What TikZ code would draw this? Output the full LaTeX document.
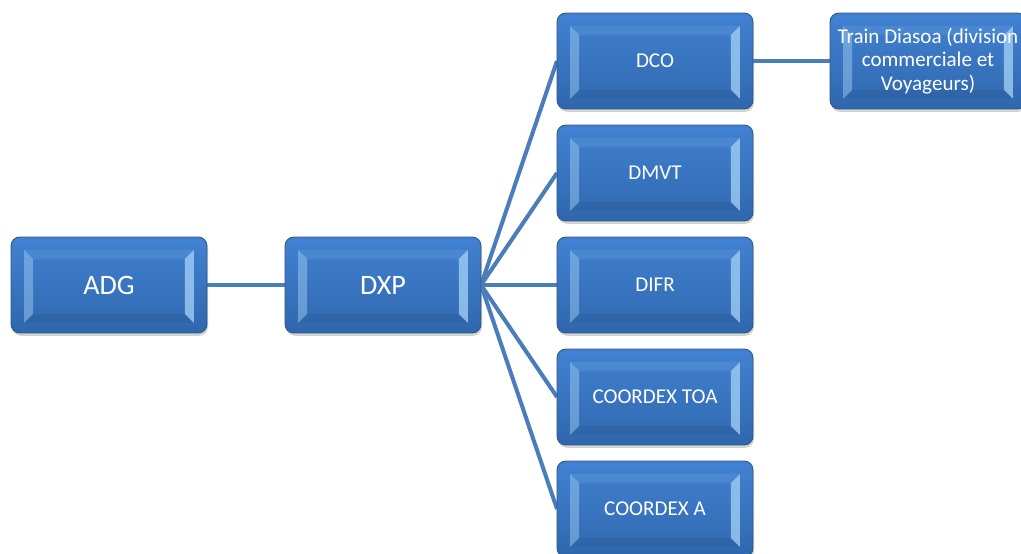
\documentclass[tikz,border=0pt]{standalone}
\usepackage{fontspec}
\setmainfont{Carlito}
\usepackage{xcolor}
\usepackage{tikz}
\usetikzlibrary{shadows}
\definecolor{boxblue}{HTML}{4282D2}
\definecolor{boxdark}{HTML}{2F67AE}
\definecolor{boxedge}{HTML}{2A5788}
\definecolor{boxlight}{HTML}{A6D4F8}
\definecolor{linkblue}{HTML}{4A7EBB}
\newcommand{\boxbevel}{%
    \fill[sharp corners, boxlight, opacity=0.45] ([shift={(0.26cm,-0.26cm)}]path picture bounding box.north west) -- ([shift={(0.26cm,0.2cm)}]path picture bounding box.south west) -- ([shift={(0.44cm,0.38cm)}]path picture bounding box.south west) -- ([shift={(0.44cm,-0.44cm)}]path picture bounding box.north west) -- cycle;
    \fill[sharp corners, boxlight, opacity=0.75] ([shift={(-0.26cm,-0.26cm)}]path picture bounding box.north east) -- ([shift={(-0.26cm,0.2cm)}]path picture bounding box.south east) -- ([shift={(-0.44cm,0.38cm)}]path picture bounding box.south east) -- ([shift={(-0.44cm,-0.44cm)}]path picture bounding box.north east) -- cycle;
    \fill[sharp corners, boxlight, opacity=0.12] ([shift={(0.26cm,-0.26cm)}]path picture bounding box.north west) -- ([shift={(-0.26cm,-0.26cm)}]path picture bounding box.north east) -- ([shift={(-0.44cm,-0.44cm)}]path picture bounding box.north east) -- ([shift={(0.44cm,-0.44cm)}]path picture bounding box.north west) -- cycle;
    \fill[sharp corners, boxedge, opacity=0.25] ([shift={(0.26cm,0.2cm)}]path picture bounding box.south west) -- ([shift={(-0.26cm,0.2cm)}]path picture bounding box.south east) -- ([shift={(-0.44cm,0.38cm)}]path picture bounding box.south east) -- ([shift={(0.44cm,0.38cm)}]path picture bounding box.south west) -- cycle;
}
\tikzstyle{orgbox} = [rectangle, rounded corners=5pt, draw=boxedge, line width=0.5pt, top color=boxblue, bottom color=boxdark, text=white, align=center, inner sep=0pt, minimum width=3.92cm, minimum height=1.92cm, drop shadow={opacity=0.35, shadow xshift=0.6pt, shadow yshift=-1.6pt}, path picture={\boxbevel}]
\tikzstyle{bigbox} = [orgbox, font=\fontsize{16}{19}\selectfont]
\tikzstyle{smallbox} = [orgbox, font=\fontsize{12}{13.2}\selectfont]
\tikzstyle{link} = [draw=linkblue, line width=2.3pt]

\begin{document}
\begin{tikzpicture}[x=0.02cm, y=-0.02cm]
    \useasboundingbox (0,0) rectangle (1021,554);

    % links (behind the boxes)
    \coordinate (adgE) at (207,285);
    \coordinate (dxpW) at (285,285);
    \coordinate (dxpE) at (481,285);
    \coordinate (dcoW) at (557,61);
    \coordinate (dmvtW) at (557,173);
    \coordinate (difrW) at (557,285);
    \coordinate (toaW) at (557,397);
    \coordinate (coaW) at (557,509);
    \coordinate (dcoE) at (753,61);
    \coordinate (trainW) at (830,61);
    \path[link] (adgE) to (dxpW);
    \path[link] (dxpE) to (dcoW);
    \path[link] (dxpE) to (dmvtW);
    \path[link] (dxpE) to (difrW);
    \path[link] (dxpE) to (toaW);
    \path[link] (dxpE) to (coaW);
    \path[link] (dcoE) to (trainW);

    % main chain
    \node[bigbox] at (109,285) (adg) {ADG};
    \node[bigbox] at (383,285) (dxp) {DXP};

    % directions
    \node[smallbox] at (655,61) (dco) {DCO};
    \node[smallbox] at (655,173) (dmvt) {DMVT};
    \node[smallbox] at (655,285) (difr) {DIFR};
    \node[smallbox] at (655,397) (toa) {COORDEX TOA};
    \node[smallbox] at (655,509) (coa) {COORDEX A};

    % train
    \node[smallbox] at (928,61) (train) {Train Diasoa (division\\commerciale et\\Voyageurs)};

\end{tikzpicture}
\end{document}
